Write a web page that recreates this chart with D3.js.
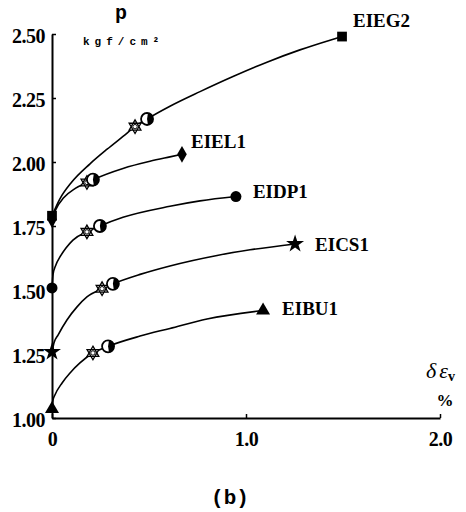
<!DOCTYPE html>
<html>
<head>
<meta charset="utf-8">
<script src="https://cdn.jsdelivr.net/npm/d3@7"></script>
<style>
  html, body { margin: 0; padding: 0; background: #fff; }
  svg { display: block; }
</style>
</head>
<body>
<svg id="chart" width="466" height="512"></svg>
<script>
// ---------------- data ----------------
const seriesNames = ["EIEG2", "EIEL1", "EIDP1", "EICS1", "EIBU1"];

const eieg2X = [0, 0.04, 0.1, 0.196, 0.284, 0.366, 0.428, 0.49, 0.608, 0.763, 0.933, 1.108, 1.278, 1.433, 1.495];
const eieg2Y = [1.79, 1.855, 1.92, 1.993, 2.05, 2.10, 2.138, 2.168, 2.218, 2.275, 2.334, 2.39, 2.438, 2.476, 2.49];

const eiel1X = [0, 0.02, 0.06, 0.12, 0.18, 0.211, 0.366, 0.505, 0.608, 0.67];
const eiel1Y = [1.775, 1.815, 1.86, 1.897, 1.92, 1.931, 1.975, 2.003, 2.02, 2.03];

const eidp1X = [0, 0.005, 0.02, 0.041, 0.072, 0.108, 0.18, 0.247, 0.366, 0.608, 0.763, 0.948];
const eidp1Y = [1.508, 1.559, 1.598, 1.629, 1.664, 1.695, 1.727, 1.75, 1.784, 1.827, 1.848, 1.865];

const eics1X = [0, 0.01, 0.031, 0.077, 0.129, 0.18, 0.258, 0.314, 0.454, 0.608, 0.851, 1.021, 1.253];
const eics1Y = [1.258, 1.293, 1.324, 1.383, 1.434, 1.473, 1.505, 1.524, 1.561, 1.594, 1.635, 1.657, 1.68];

const eibu1X = [0, 0.005, 0.015, 0.052, 0.093, 0.144, 0.211, 0.289, 0.454, 0.608, 0.799, 1.088];
const eibu1Y = [1.035, 1.07, 1.09, 1.137, 1.176, 1.215, 1.254, 1.28, 1.32, 1.35, 1.387, 1.42];

// hexagram markers and half-filled circle markers on each curve
const hexMarkX = [0.428, 0.18, 0.18, 0.258, 0.211];
const hexMarkY = [2.138, 1.92, 1.727, 1.505, 1.254];
const halfMarkX = [0.49, 0.211, 0.247, 0.314, 0.289];
const halfMarkY = [2.168, 1.931, 1.75, 1.524, 1.28];

const yTicks = [1.00, 1.25, 1.50, 1.75, 2.00, 2.25, 2.50];
const xTicks = [0, 1.0, 2.0];
const xTickLabels = ["0", "1.0", "2.0"];

// ---------------- drawing ----------------
const svg = d3.select("#chart");
const x = d3.scaleLinear().domain([0, 2]).range([52, 440]);
const y = d3.scaleLinear().domain([1, 2.5]).range([418, 34]);

const serifFont = "'Liberation Serif', 'Times New Roman', serif";
const monoFont = "'Liberation Mono', 'Courier New', monospace";

// Axes
const yAxis = d3.axisLeft(y).tickValues(yTicks).tickFormat(d3.format(".2f"))
  .tickSizeInner(-4).tickSizeOuter(0).tickPadding(7);
const gy = svg.append("g").attr("transform", `translate(${x(0)},0)`).call(yAxis);
gy.select(".domain").attr("stroke", "#000").attr("stroke-width", 2);
gy.selectAll(".tick line").attr("stroke", "#000").attr("stroke-width", 1.5);
gy.selectAll(".tick text")
  .attr("font-family", serifFont).attr("font-size", 20).attr("font-weight", "bold")
  .attr("fill", "#000").attr("dy", "0.42em").attr("letter-spacing", "-0.5");

const xAxis = d3.axisBottom(x).tickValues(xTicks).tickFormat((d, i) => xTickLabels[i])
  .tickSizeInner(-4).tickSizeOuter(0).tickPadding(14);
const gx = svg.append("g").attr("transform", `translate(0,${y(1)})`).call(xAxis);
gx.select(".domain").attr("stroke", "#000").attr("stroke-width", 2);
gx.selectAll(".tick line").attr("stroke", "#000").attr("stroke-width", 1.5);
gx.selectAll(".tick text")
  .attr("font-family", serifFont).attr("font-size", 20).attr("font-weight", "bold")
  .attr("fill", "#000").attr("letter-spacing", "-0.5");

// Curves
const allX = [eieg2X, eiel1X, eidp1X, eics1X, eibu1X];
const allY = [eieg2Y, eiel1Y, eidp1Y, eics1Y, eibu1Y];
const line = d3.line().x(d => x(d[0])).y(d => y(d[1])).curve(d3.curveMonotoneX);

const endShapes = [d3.symbolSquare, d3.symbolDiamond, d3.symbolCircle, d3.symbolStar, d3.symbolTriangle];
const endSizes = [95, 80, 95, 100, 85];
const labelOffsets = [[11, -10], [9, -6], [17, 1], [20, 7], [19, 5]];

seriesNames.forEach((name, i) => {
  const pts = allX[i].map((v, j) => [v, allY[i][j]]);
  svg.append("path").datum(pts)
    .attr("d", line).attr("fill", "none")
    .attr("stroke", "#000").attr("stroke-width", 1.6);

  const sym = d3.symbol().type(endShapes[i]).size(endSizes[i]);
  const first = pts[0], last = pts[pts.length - 1];
  svg.append("path").attr("d", sym())
    .attr("transform", `translate(${x(first[0])},${y(first[1])})`).attr("fill", "#000");
  svg.append("path").attr("d", sym())
    .attr("transform", `translate(${x(last[0])},${y(last[1])})`).attr("fill", "#000");

  // label
  svg.append("text")
    .attr("x", x(last[0]) + labelOffsets[i][0])
    .attr("y", y(last[1]) + labelOffsets[i][1])
    .attr("font-family", serifFont).attr("font-size", 19).attr("font-weight", "bold")
    .attr("fill", "#000").text(name);
});

// hexagram markers
function hexagramPath(r) {
  const tri = a0 => d3.range(3).map(k => {
    const a = a0 + k * 2 * Math.PI / 3;
    return [r * Math.cos(a), r * Math.sin(a)];
  });
  const t1 = tri(-Math.PI / 2), t2 = tri(Math.PI / 2);
  const p = t => "M" + t.map(q => q.join(",")).join("L") + "Z";
  return p(t1) + p(t2);
}
hexMarkX.forEach((v, i) => {
  const g = svg.append("g").attr("transform", `translate(${x(v)},${y(hexMarkY[i])})`);
  g.append("path").attr("d", hexagramPath(6.8)).attr("fill", "#fff")
    .attr("stroke", "#000").attr("stroke-width", 1.3);
  g.append("circle").attr("r", 2.2).attr("fill", "none").attr("stroke", "#000").attr("stroke-width", 1);
});

// half-filled circle markers
halfMarkX.forEach((v, i) => {
  const g = svg.append("g").attr("transform", `translate(${x(v)},${y(halfMarkY[i])})`);
  g.append("circle").attr("r", 6).attr("fill", "#fff").attr("stroke", "#000").attr("stroke-width", 1.8);
  g.append("path").attr("d", d3.arc()({innerRadius: 0, outerRadius: 6, startAngle: 0.15, endAngle: Math.PI - 0.15}))
    .attr("fill", "#000");
});

// axis titles
svg.append("text").attr("x", 121).attr("y", 19).attr("text-anchor", "middle")
  .attr("font-family", monoFont).attr("font-size", 20).attr("font-weight", "bold").text("p");
svg.append("text").attr("x", 83).attr("y", 45)
  .attr("font-family", monoFont).attr("font-size", 11).attr("font-weight", "bold")
  .attr("letter-spacing", "5").text("kgf/cm²");

const xt = svg.append("text").attr("x", 426).attr("y", 378)
  .attr("font-family", serifFont).attr("font-size", 22).attr("font-style", "italic").attr("fill", "#000");
xt.append("tspan").text("δ");
xt.append("tspan").attr("dx", 3).text("ε");
xt.append("tspan").attr("dy", 3).attr("font-size", 14).attr("font-weight", "bold").attr("font-style", "normal").text("v");
svg.append("text").attr("x", 445).attr("y", 406).attr("text-anchor", "middle")
  .attr("font-family", serifFont).attr("font-size", 17).attr("font-weight", "bold").text("%");

svg.append("text").attr("x", 230).attr("y", 504).attr("text-anchor", "middle")
  .attr("font-family", monoFont).attr("font-size", 21).attr("font-weight", "bold").text("(b)");
</script>
</body>
</html>
